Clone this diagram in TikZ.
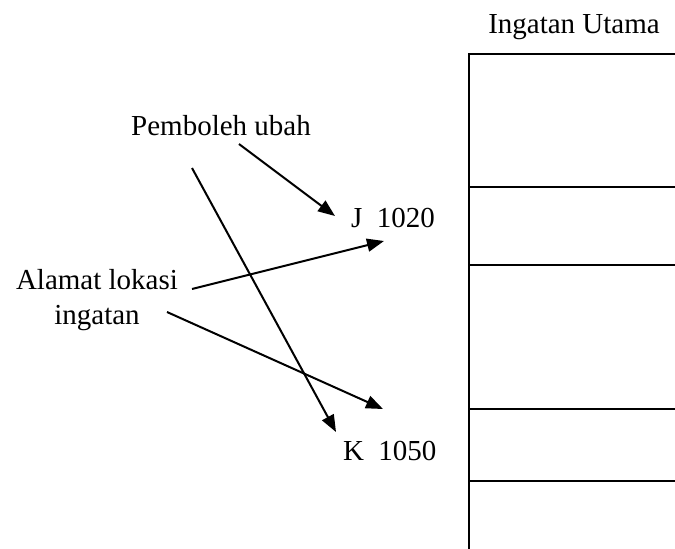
\documentclass[tikz,border=0pt]{standalone}
\usepackage{fontspec}
\setmainfont{Liberation Serif}
\usetikzlibrary{arrows.meta}

\begin{document}
\begin{tikzpicture}[x=1pt, y=-1pt, line width=2pt,
  lbl/.style={font=\fontsize{29}{35}\selectfont, inner sep=0pt, align=center},
  ptr/.style={-{Triangle[length=17pt,width=13pt]}}]
\def\mx{469}
\def\mw{675}
\useasboundingbox (0, 0) rectangle (675, 549);

% ingatan utama
\draw (\mx, 549) -- (\mx, 54) -- (\mw, 54);
\foreach \y in {187, 265, 409, 481} \draw (\mx, \y) -- (\mw, \y);
\node[lbl, anchor=base] (utama) at (574, 33) {Ingatan Utama};

% label
\node[lbl, anchor=base] (pu) at (221, 135) {Pemboleh ubah};
\node[lbl] (al) at (97, 300.5) {Alamat lokasi\\ingatan};
\node[lbl, anchor=base west] (j) at (350, 227) {J\enspace 1020};
\node[lbl, anchor=base west] (k) at (342, 460) {K\enspace 1050};

\coordinate (pa) at (239, 144);
\coordinate (pb) at (192, 168);
\coordinate (aa) at (192, 289);
\coordinate (ab) at (167, 312);
\coordinate (ja) at (335, 216);
\coordinate (jb) at (384, 241);
\coordinate (ka) at (336, 432);
\coordinate (kb) at (383, 409);

\draw[ptr] (pa) -- (ja);
\draw[ptr] (pb) -- (ka);
\draw[ptr] (aa) -- (jb);
\draw[ptr] (ab) -- (kb);
\end{tikzpicture}
\end{document}
